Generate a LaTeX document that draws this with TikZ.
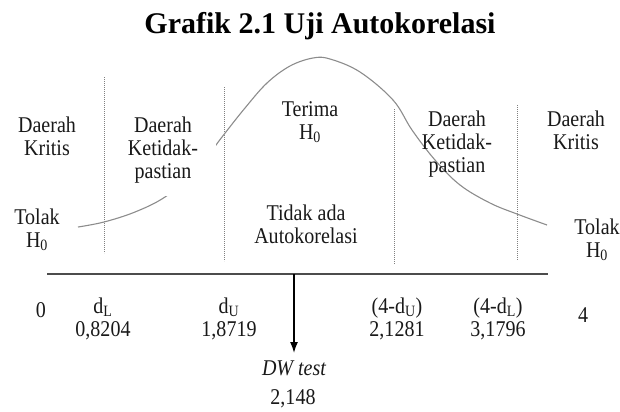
\documentclass[tikz,border=0pt]{standalone}
\usepackage{fontspec}
\setmainfont{Liberation Serif}
\newfontfamily\tallserif[FakeStretch=0.89]{Liberation Serif}
\usetikzlibrary{arrows.meta}
\begin{document}
\begin{tikzpicture}[x=1bp,y=-1bp,
  lbl/.style={align=center,inner sep=0pt,font=\tallserif\fontsize{22.5bp}{23bp}\selectfont,text=black!90},
  sepline/.style={gray,line width=0.8bp,dash pattern=on 1bp off 1bp},
  bell/.style={gray!90,line width=1.1bp},
  axisline/.style={black!70,line width=1.5bp},
  dwarrow/.style={black,line width=1.5bp,-{Latex[length=11bp,width=8bp]}}]
\useasboundingbox (0,0) rectangle (620,411);
% title
\node[anchor=base,inner sep=0pt,font=\fontsize{30bp}{34bp}\selectfont\bfseries] (title) at (320,33) {Grafik 2.1 Uji Autokorelasi};
% dotted separators
\coordinate (s1t) at (104,77);  \coordinate (s1b) at (104,253);
\coordinate (s2t) at (224,87);  \coordinate (s2b) at (224,261);
\coordinate (s3t) at (394,109); \coordinate (s3b) at (394,264);
\coordinate (s4t) at (517,105); \coordinate (s4b) at (517,260);
\draw[sepline] (s1t) -- (s1b);
\draw[sepline] (s2t) -- (s2b);
\draw[sepline] (s3t) -- (s3b);
\draw[sepline] (s4t) -- (s4b);
% bell curve
\draw[bell] plot[smooth,tension=0.6] coordinates {(78,227) (104,222) (135,212) (165,197) (195,172) (222,137) (245,108) (267,83) (290,66) (313,58) (330,59) (360,72) (393,100) (412,130) (435,160) (460,185) (490,203) (517,214) (547,225)};
% region labels
\node[lbl] (krL) at (47,136) {Daerah\\Kritis};
\node[lbl,fill=white,minimum width=106bp,minimum height=92bp] (ktL) at (163,150) {Daerah\\Ketidak-\\pastian};
\node[lbl] (terima) at (310,122) {Terima\\H\textsubscript{0}};
\node[lbl] (ktR) at (457,144) {Daerah\\Ketidak-\\pastian};
\node[lbl] (krR) at (576,130) {Daerah\\Kritis};
\node[lbl] (tolL) at (37,230) {Tolak\\H\textsubscript{0}};
\node[lbl] (tidak) at (306,224) {Tidak ada\\Autokorelasi};
\node[lbl] (tolR) at (597,240) {Tolak\\H\textsubscript{0}};
% axis
\coordinate (axL) at (47,274);
\coordinate (axR) at (548,274);
\draw[axisline] (axL) -- (axR);
% values
\node[lbl] (v0) at (41,310) {0};
\node[lbl] (vdl) at (103,319) {d\textsubscript{L}\\0,8204};
\node[lbl] (vdu) at (229,319) {d\textsubscript{U}\\1,8719};
\node[lbl] (v4du) at (397,319) {(4-d\textsubscript{U})\\2,1281};
\node[lbl] (v4dl) at (498,319) {(4-d\textsubscript{L})\\3,1796};
\node[lbl] (v4) at (583,315) {4};
% DW test
\coordinate (dwtop) at (294,274);
\coordinate (dwtip) at (294,353);
\draw[dwarrow] (dwtop) -- (dwtip);
\node[lbl,font=\tallserif\fontsize{22.5bp}{23bp}\selectfont\itshape] (dw) at (294,368) {DW test};
\node[lbl] (dwv) at (293,399) {2,148};
\end{tikzpicture}
\end{document}
